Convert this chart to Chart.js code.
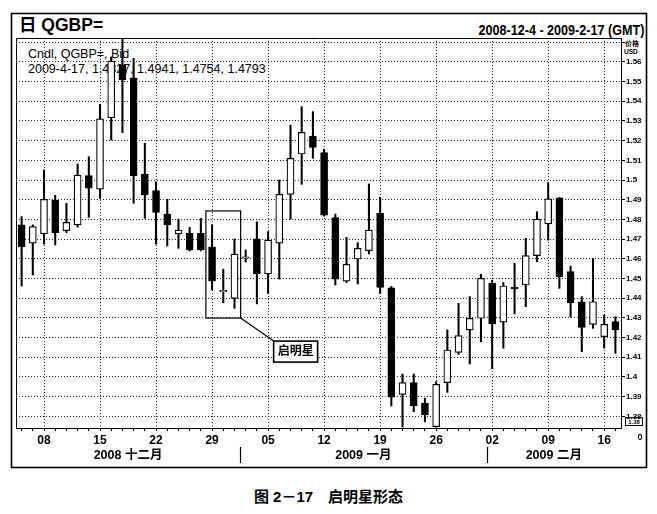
<!DOCTYPE html>
<html lang="zh">
<head>
<meta charset="UTF-8">
<title>QGBP= 启明星形态</title>
<style>
    html, body {
        margin: 0;
        padding: 0;
        background: #fff;
    }

    body {
        position: relative;
        width: 657px;
        height: 514px;
        overflow: hidden;
        font-family: 'Liberation Sans', 'Noto Sans CJK SC', sans-serif;
        color: #000;
    }

    .txt {
        position: absolute;
        white-space: nowrap;
        line-height: 1;
        z-index: 0;
    }

    #chartBox {
        position: absolute;
        left: 0;
        top: 0;
        width: 657px;
        height: 514px;
        z-index: 1;
    }

    #titleLeft { left: 19px; top: 17px; font-size: 17.5px; font-weight: bold; }
    #titleRight { right: 13px; top: 23px; font-size: 14px; font-weight: bold; transform: scaleX(0.9); transform-origin: right center; }
    #info1 { left: 28px; top: 48px; font-size: 12.5px; }
    #info2 { left: 28px; top: 63px; font-size: 12.5px; }
    #unit1 { left: 625px; top: 40px; font-size: 7px; font-weight: bold; }
    #unit2 { left: 624px; top: 49px; font-size: 6.5px; font-weight: bold; }
    #caption { left: 0; width: 657px; text-align: center; top: 489px; font-size: 15px; font-weight: bold; }
</style>
</head>
<body>

<div class="txt" id="titleLeft">日 QGBP=</div>
<div class="txt" id="titleRight">2008-12-4 - 2009-2-17 (GMT)</div>
<div class="txt" id="info1">Cndl, QGBP=, Bid</div>
<div class="txt" id="info2">2009-4-17, 1.4827, 1.4941, 1.4754, 1.4793</div>
<div class="txt" id="unit1">价格</div>
<div class="txt" id="unit2">USD</div>
<div class="txt" id="caption">图 2－17　启明星形态</div>

<div id="chartBox"><canvas id="chart"></canvas></div>

<script src="https://cdn.jsdelivr.net/npm/chart.js"></script>
<script>
    // Daily candles, 2008-12-04 .. 2009-02-17
    const dates = [
        '2008-12-04', '2008-12-05',
        '2008-12-08', '2008-12-09', '2008-12-10', '2008-12-11', '2008-12-12',
        '2008-12-15', '2008-12-16', '2008-12-17', '2008-12-18', '2008-12-19',
        '2008-12-22', '2008-12-23', '2008-12-24', '2008-12-25', '2008-12-26',
        '2008-12-29', '2008-12-30', '2008-12-31', '2009-01-01', '2009-01-02',
        '2009-01-05', '2009-01-06', '2009-01-07', '2009-01-08', '2009-01-09',
        '2009-01-12', '2009-01-13', '2009-01-14', '2009-01-15', '2009-01-16',
        '2009-01-19', '2009-01-20', '2009-01-21', '2009-01-22', '2009-01-23',
        '2009-01-26', '2009-01-27', '2009-01-28', '2009-01-29', '2009-01-30',
        '2009-02-02', '2009-02-03', '2009-02-04', '2009-02-05', '2009-02-06',
        '2009-02-09', '2009-02-10', '2009-02-11', '2009-02-12', '2009-02-13',
        '2009-02-16', '2009-02-17'
    ];

    const opens = [
        1.4772, 1.4679, 1.4726, 1.4898, 1.4743, 1.4772, 1.5022, 1.4954, 1.5316, 1.5584,
        1.5519, 1.5030, 1.4946, 1.4827, 1.4727, 1.4729, 1.4729, 1.4661, 1.4432, 1.4399,
        1.4603, 1.4701, 1.4523, 1.4679, 1.4927, 1.5132, 1.5223, 1.5139, 1.4809, 1.4487,
        1.4599, 1.4641, 1.4831, 1.4453, 1.3912, 1.3971, 1.3867, 1.3748, 1.3971, 1.4125,
        1.4239, 1.4298, 1.4476, 1.4278, 1.4457, 1.4467, 1.4616, 1.4777, 1.4910, 1.4535,
        1.4382, 1.4267, 1.4205, 1.4281
    ];
    const highs = [
        1.4814, 1.4772, 1.5051, 1.4922, 1.4882, 1.5081, 1.5118, 1.5384, 1.5625, 1.5714,
        1.5618, 1.5186, 1.4991, 1.4902, 1.4802, 1.4760, 1.4805, 1.4772, 1.4547, 1.4701,
        1.4645, 1.4788, 1.4738, 1.5000, 1.5279, 1.5372, 1.5347, 1.5156, 1.4827, 1.4709,
        1.4682, 1.4980, 1.4912, 1.4460, 1.4015, 1.4015, 1.3892, 1.3976, 1.4239, 1.4374,
        1.4408, 1.4521, 1.4492, 1.4479, 1.4577, 1.4704, 1.4839, 1.4986, 1.4912, 1.4563,
        1.4408, 1.4602, 1.4315, 1.4306
    ];
    const lows = [
        1.4462, 1.4518, 1.4675, 1.4670, 1.4733, 1.4761, 1.4811, 1.4907, 1.5203, 1.5240,
        1.4882, 1.4805, 1.4675, 1.4665, 1.4653, 1.4640, 1.4640, 1.4442, 1.4377, 1.4349,
        1.4584, 1.4371, 1.4425, 1.4497, 1.4802, 1.4978, 1.5110, 1.4817, 1.4467, 1.4479,
        1.4472, 1.4624, 1.4425, 1.3853, 1.3746, 1.3824, 1.3772, 1.3745, 1.3922, 1.4115,
        1.4066, 1.4179, 1.4041, 1.4146, 1.4320, 1.4357, 1.4585, 1.4695, 1.4450, 1.4305,
        1.4128, 1.4247, 1.4146, 1.4120
    ];
    const closes = [
        1.4661, 1.4763, 1.4902, 1.4733, 1.4785, 1.5025, 1.4958, 1.5310, 1.5604, 1.5508,
        1.5022, 1.4924, 1.4836, 1.4772, 1.4746, 1.4645, 1.4645, 1.4487, 1.4438, 1.4624,
        1.4608, 1.4523, 1.4695, 1.4927, 1.5110, 1.5242, 1.5166, 1.4822, 1.4497, 1.4572,
        1.4653, 1.4746, 1.4455, 1.3897, 1.3971, 1.3853, 1.3807, 1.3963, 1.4137, 1.4210,
        1.4298, 1.4501, 1.4269, 1.4462, 1.4447, 1.4616, 1.4801, 1.4904, 1.4509, 1.4377,
        1.4252, 1.4382, 1.4267, 1.4239
    ];

    // price axis tick values (1.57 has a grid line but no label)
    const yTicks = [1.38, 1.39, 1.40, 1.41, 1.42, 1.43, 1.44, 1.45, 1.46, 1.47,
                    1.48, 1.49, 1.50, 1.51, 1.52, 1.53, 1.54, 1.55, 1.56, 1.57];
    const monthNames = ['一月', '二月', '三月', '四月', '五月', '六月',
                        '七月', '八月', '九月', '十月', '十一月', '十二月'];

    // morning star pattern: candles 17..19
    const starFrom = 17, starTo = 19;
    const starLabel = '启明星';

    const FONT = "'Liberation Sans', 'Noto Sans CJK SC', sans-serif";
    const gridColor = '#2a2a2a';

    function isMonday(i) {
        return new Date(dates[i] + 'T00:00:00Z').getUTCDay() === 1;
    }

    // month segments for the lower axis row
    const monthStarts = [0];
    for (let i = 1; i < dates.length; i++) {
        if (dates[i].slice(5, 7) !== dates[i - 1].slice(5, 7)) monthStarts.push(i);
    }

    const framePlugin = {
        id: 'frame',
        afterDraw(chart) {
            const { ctx, chartArea: a } = chart;
            const x = chart.scales.x, y = chart.scales.y;
            ctx.save();
            ctx.strokeStyle = '#000';

            // outer frame
            ctx.lineWidth = 1.6;
            ctx.strokeRect(11.5, 13.5, 635, 454);

            // plot border left / top
            ctx.lineWidth = 1;
            ctx.beginPath();
            ctx.moveTo(a.left + 0.5, a.bottom);
            ctx.lineTo(a.left + 0.5, a.top + 0.5);
            ctx.lineTo(a.right, a.top + 0.5);
            ctx.stroke();

            // month row
            const edges = [a.left];
            for (let k = 1; k < monthStarts.length; k++) {
                const b = monthStarts[k];
                edges.push((x.getPixelForValue(b - 1) + x.getPixelForValue(b)) / 2);
            }
            edges.push(a.right);
            ctx.fillStyle = '#000';
            ctx.font = 'bold 12.5px ' + FONT;
            ctx.textAlign = 'center';
            ctx.textBaseline = 'middle';
            for (let k = 0; k < monthStarts.length; k++) {
                const d = dates[monthStarts[k]];
                const name = d.slice(0, 4) + ' ' + monthNames[parseInt(d.slice(5, 7), 10) - 1];
                ctx.fillText(name, (edges[k] + edges[k + 1]) / 2, a.bottom + 28);
                if (k > 0) {
                    ctx.lineWidth = 1.2;
                    ctx.beginPath();
                    ctx.moveTo(Math.round(edges[k]) + 0.5, a.bottom + 19);
                    ctx.lineTo(Math.round(edges[k]) + 0.5, a.bottom + 35);
                    ctx.stroke();
                }
            }

            // pattern box
            const step = x.getPixelForValue(1) - x.getPixelForValue(0);
            const bx1 = x.getPixelForValue(starFrom) - step * 0.55;
            const bx2 = x.getPixelForValue(starTo) + step * 0.55;
            const by1 = y.getPixelForValue(1.4843);
            const by2 = y.getPixelForValue(1.4299);
            ctx.lineWidth = 1.2;
            ctx.strokeRect(bx1, by1, bx2 - bx1, by2 - by1);

            // leader + label box
            const lx = bx2 + 33, ly = by2 + 23;
            ctx.beginPath();
            ctx.moveTo(bx2, by2);
            ctx.lineTo(lx, ly);
            ctx.stroke();
            ctx.lineWidth = 1.6;
            ctx.fillStyle = '#fff';
            ctx.fillRect(lx, ly, 44, 21);
            ctx.strokeRect(lx, ly, 44, 21);
            ctx.fillStyle = '#000';
            ctx.font = 'bold 12px ' + FONT;
            ctx.fillText(starLabel, lx + 22, ly + 11);

            // small price box and zero mark at the right edge
            ctx.lineWidth = 1;
            ctx.strokeRect(625.5, 417.5, 17, 8);
            ctx.font = 'bold 6px ' + FONT;
            ctx.fillText('1.38', 634, 422);
            ctx.font = 'bold 9px ' + FONT;
            ctx.fillText('0', 640, 438);
            ctx.restore();
        }
    };

    new Chart(document.getElementById('chart'), {
        type: 'bar',
        data: {
            labels: dates,
            datasets: [
                {
                    label: 'wick',
                    data: lows.map((l, i) => [l, highs[i]]),
                    backgroundColor: '#000',
                    borderWidth: 0,
                    barThickness: 1.4,
                    grouped: false,
                    order: 2
                },
                {
                    label: 'body',
                    data: opens.map((o, i) => [o, closes[i]]),
                    backgroundColor: opens.map((o, i) => closes[i] >= o ? '#fff' : '#000'),
                    borderColor: '#000',
                    borderWidth: 1.2,
                    borderSkipped: false,
                    barThickness: 7,
                    minBarLength: 1.5,
                    grouped: false,
                    order: 1
                }
            ]
        },
        options: {
            responsive: true,
            maintainAspectRatio: false,
            animation: false,
            layout: { padding: { left: 16, top: 38, right: 10, bottom: 46 } },
            plugins: {
                legend: { display: false },
                tooltip: { enabled: false }
            },
            scales: {
                x: {
                    offset: true,
                    grid: {
                        offset: false,
                        color: c => isMonday(c.index) ? gridColor : 'rgba(0,0,0,0)',
                        tickColor: '#000',
                        tickLength: 3,
                        lineWidth: 1
                    },
                    border: { color: '#000', width: 1, dash: [1, 2] },
                    ticks: {
                        autoSkip: false,
                        maxRotation: 0,
                        padding: 2,
                        color: '#000',
                        font: { family: FONT, size: 12, weight: 'bold' },
                        callback: (v, i) => isMonday(i) ? dates[i].slice(8) : ''
                    },
                    afterFit: s => { s.height = 40; }
                },
                y: {
                    position: 'right',
                    min: 1.3741,
                    max: 1.5721,
                    afterBuildTicks: s => { s.ticks = yTicks.map(v => ({ value: v })); },
                    grid: { color: gridColor, tickColor: '#000', tickLength: 4, lineWidth: 1 },
                    border: { color: '#000', width: 1, dash: [1, 2] },
                    ticks: {
                        padding: 1,
                        color: '#000',
                        font: { family: FONT, size: 8, weight: 'bold' },
                        callback: v => v > 1.565 ? '' : String(+v.toFixed(2))
                    },
                    afterFit: s => { s.width = 26; }
                }
            }
        },
        plugins: [framePlugin]
    });
</script>

</body>
</html>
